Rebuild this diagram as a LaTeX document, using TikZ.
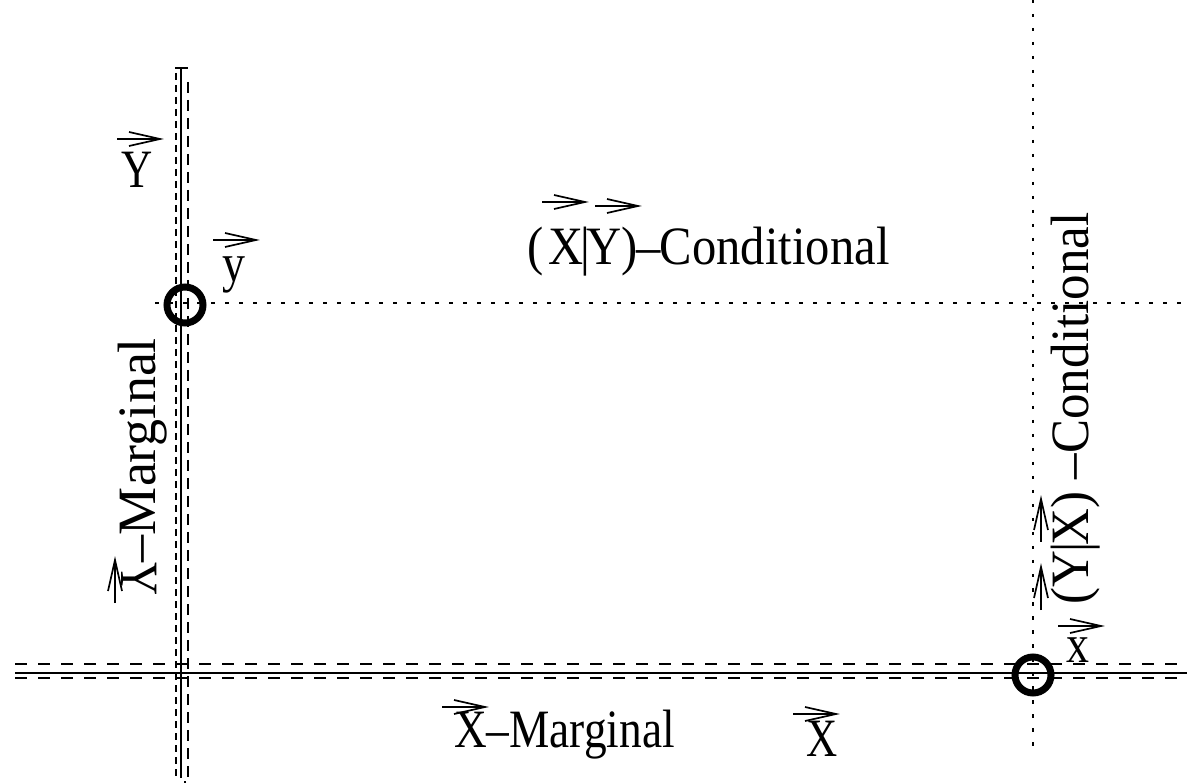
\documentclass[tikz,border=0pt]{standalone}
\usepackage{graphicx}
\usepackage{fontspec}
\setmainfont{Liberation Serif}
\begin{document}
\begin{tikzpicture}[x=1pt,y=-1pt,
  lbl/.style={font=\fontsize{54}{60}\selectfont, inner sep=0pt, outer sep=0pt},
  axisln/.style={line width=1.5pt},
  dashln/.style={line width=2.2pt, dash pattern=on 12pt off 11pt},
  dashlnA/.style={line width=2pt, dash pattern=on 7pt off 5pt},
  dashlnB/.style={line width=2.2pt, dash pattern=on 11pt off 7pt},
  dotln/.style={line width=2pt, dash pattern=on 3.5pt off 10.5pt},
  ring/.style={circle, draw, line width=7pt, minimum size=36pt, inner sep=0pt},
  vecar/.pic={\draw[line width=1.7pt] (0,0) -- (43,0);
              \draw[line width=1.7pt] (12,-7) -- (43,0) -- (12,7);}
]
\useasboundingbox (0,0) rectangle (1187,783);
% Y axis
\coordinate (Ytop) at (181,68);
\coordinate (Ybot) at (181,778);
\draw[axisln] (Ytop) -- (Ybot);
\draw[axisln] (175,68) -- (188,68);
\draw[dashlnA] (176,73) -- (176,778);
\draw[dashlnB] (188,82) -- (188,782) -- (184,782);
% X axis
\coordinate (Xleft) at (15,673);
\coordinate (Xright) at (1187,673);
\draw[axisln] (Xleft) -- (Xright);
\draw[dashln] (15,664) -- (1183,664);
\draw[dashln] (15,678) -- (1183,678);
% dotted conditional lines
\coordinate (dyl) at (155,303);
\coordinate (dyr) at (1187,303);
\draw[dotln] (dyl) -- (dyr);
\coordinate (dxt) at (1033,0);
\coordinate (dxb) at (1033,752);
\draw[dotln] (dxt) -- (dxb);
% circles
\node[ring] (py) at (185,305) {};
\node[ring] (px) at (1033,675) {};
% labels
\node[lbl, anchor=base west] (Yl) at (121,188) {\scalebox{0.8}[1]{Y}};
\pic at (117,139) {vecar};
\node[lbl, anchor=base west] (yl) at (222,282) {\scalebox{0.85}[1]{y}};
\pic at (213,240) {vecar};
\node[lbl, anchor=base west] (xyc) at (527,265)
  {\scalebox{0.9}[1]{(\kern6pt X\kern-4pt|\kern-4ptY)\kern-1pt–\kern-1ptConditional}};
\pic at (542,202) {vecar};
\pic at (595,206) {vecar};
\node[lbl, anchor=base west] (xm) at (454,747) {\scalebox{0.84}[1]{X–Marginal}};
\pic at (442,707) {vecar};
\node[lbl, anchor=base west] (Xl) at (806,756) {\scalebox{0.8}[1]{X}};
\pic at (793,714) {vecar};
\node[lbl, anchor=base west] (xl) at (1066,662) {\scalebox{0.85}[1]{x}};
\pic at (1058,626) {vecar};
% rotated Y-marginal
\node[lbl, rotate=90, anchor=base west] (ym) at (155,562) {–Marginal};
\node[lbl, rotate=-90] (Yflip) at (139,579) {\scalebox{0.85}[1]{Y}};
\pic[rotate=90] at (115,603) {vecar};
% rotated (Y|X)-conditional
\node[lbl, rotate=90, anchor=base west] (yxc) at (1088,604)
  {\scalebox{0.945}[1]{(Y\kern-3pt|\kern-3ptX) –Conditional}};
\pic[rotate=90] at (1041,542) {vecar};
\pic[rotate=90] at (1041,610) {vecar};
\end{tikzpicture}
\end{document}
